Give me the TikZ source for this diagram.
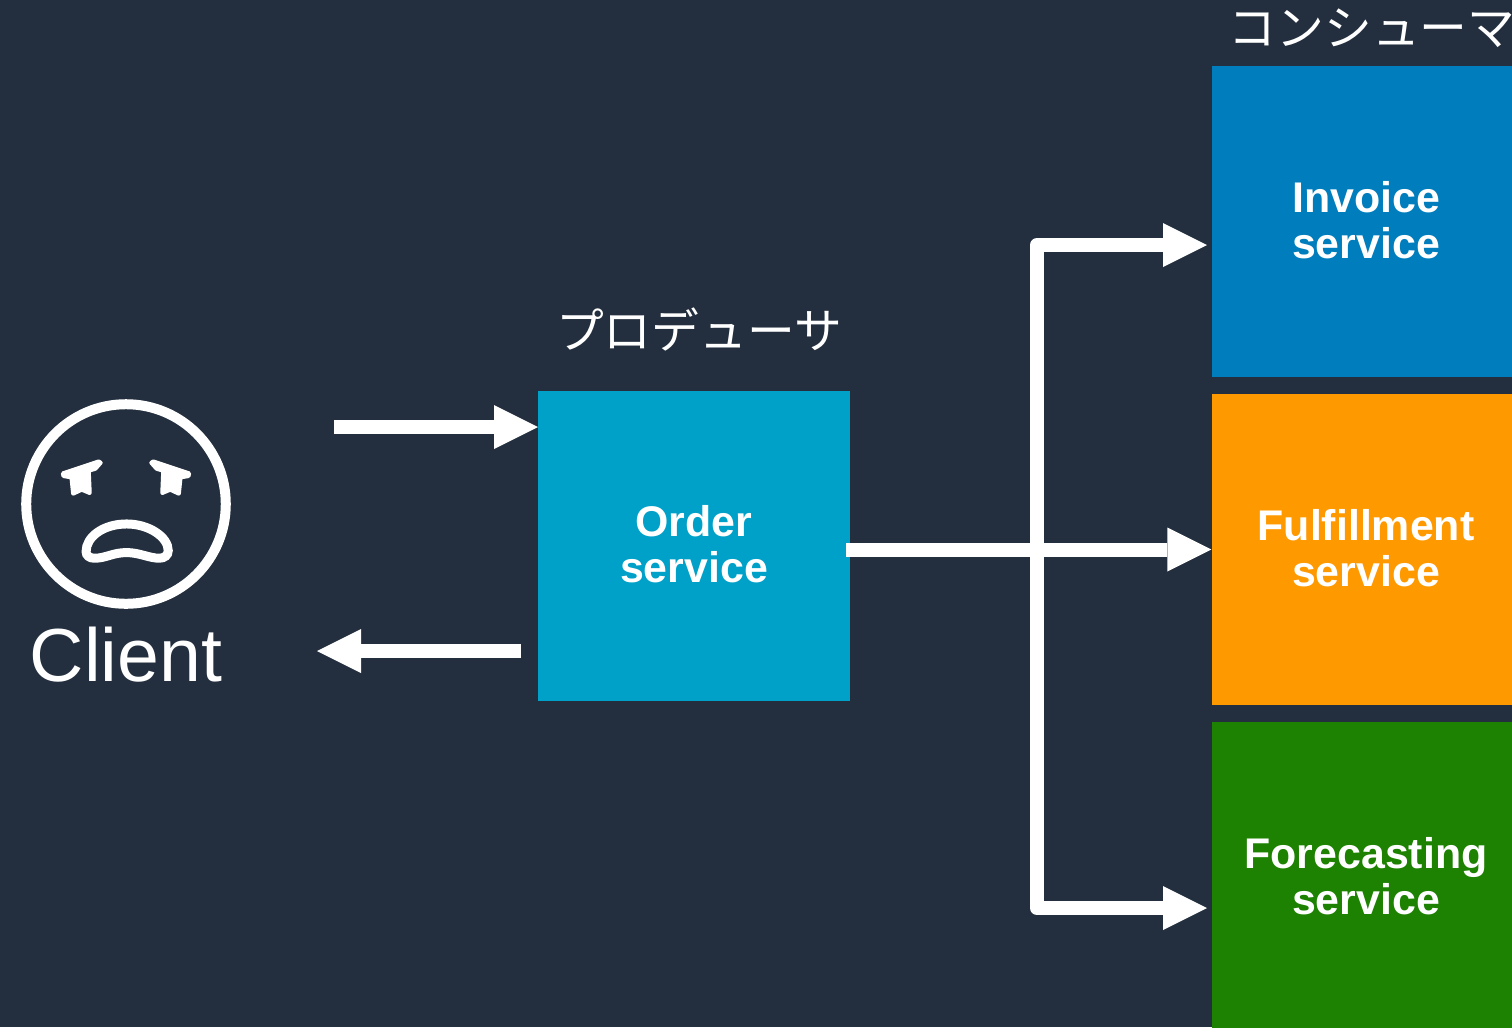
\documentclass[tikz,border=0pt]{standalone}
\usepackage{fontspec}
\setmainfont{Liberation Sans}
\newfontfamily\jpfont{Noto Sans CJK JP}
\usetikzlibrary{arrows.meta}

\definecolor{fond}{HTML}{232F3E}
\definecolor{bleuOrder}{HTML}{00A1C9}
\definecolor{bleuInvoice}{HTML}{007DBC}
\definecolor{orangeFulfill}{HTML}{FF9900}
\definecolor{vertForecast}{HTML}{1D8102}

\tikzset{
    service/.style={minimum width=3.08cm, minimum height=3.11cm, inner sep=0, text=white, align=center,
        text depth=.04cm, font=\fontsize{12.2}{13.1}\selectfont\bfseries},
    titre/.style={text=white, inner sep=0, font=\fontsize{13.6}{16}\jpfont},
    flow/.style={draw=white, line width=.14cm, line join=round, -{Triangle[length=.44cm,width=.44cm,line width=0pt]}},
}

\newcommand{\eye}{
    \filldraw[white,line width=.04cm,line join=round] (-190,92) -- (-82,128) -- (-76,124) -- (-92,106) -- (-112,100)
        -- (-109,33) -- (-133,43) -- (-159,31) -- (-164,80) -- (-188,84) -- cycle;
}
\newcommand{\face}{
    % contour
    \draw[white,line width=.1cm] (0,0) circle (300);

    % yeux
    \eye
    \begin{scope}[xscale=-1] \eye \end{scope}

    % bouche
    \draw[white,line width=.09cm] (2,-60) .. controls (-70,-60) and (-120,-100) .. (-120,-143)
        .. controls (-120,-155) and (-110,-163) .. (-95,-163)
        .. controls (-60,-163) and (-40,-146) .. (2,-146)
        .. controls (40,-146) and (70,-163) .. (100,-163)
        .. controls (115,-163) and (127,-155) .. (127,-140)
        .. controls (127,-100) and (70,-60) .. (2,-60) -- cycle;
}

\begin{document}
\begin{tikzpicture}
    \useasboundingbox (0,0) rectangle (15.12,-10.27);
    \clip (0,0) rectangle (15.12,-10.27);
    \fill[fond] (0,0) rectangle (15.12,-10.27);

    % client
    \begin{scope}[shift={(1.26,-5.04)},x=.003333cm,y=.003333cm] \face \end{scope}
    \node[anchor=base,text=white,inner sep=0,font=\fontsize{21.4}{24}\selectfont] (client) at (1.26,-6.81) {Client};

    % services
    \node[service,fill=bleuOrder,minimum width=3.12cm,minimum height=3.10cm] (order) at (6.94,-5.46) {Order\\service};
    \node[service,fill=bleuInvoice] (invoice) at (13.66,-2.215) {Invoice\\service};
    \node[service,fill=orangeFulfill] (fulfillment) at (13.66,-5.495) {Fulfillment\\service};
    \node[service,fill=vertForecast] (forecasting) at (13.66,-8.775) {Forecasting\\service};

    % titres
    \node[titre] (producer) at (6.99,-3.29) {プロデューサ};
    \node[titre] (consumer) at (13.72,-.28) {コンシューマ};

    % points
    \coordinate (clientout) at (3.34,-4.27);
    \coordinate (orderin) at (5.38,-4.27);
    \coordinate (orderback) at (5.21,-6.51);
    \coordinate (clientin) at (3.17,-6.51);
    \coordinate (orderout) at (8.46,-5.495);
    \coordinate (branch) at (10.37,-5.495);
    \coordinate (invoicein) at (12.07,-2.45);
    \coordinate (forecastin) at (12.07,-9.08);

    % client <-> order
    \draw[flow] (clientout) -- (orderin);
    \draw[flow] (orderback) -- (clientin);

    % order -> consumers
    \draw[flow] (orderout) -- (fulfillment.west);
    \draw[flow] (branch) |- (invoicein);
    \draw[flow] (branch) |- (forecastin);
\end{tikzpicture}
\end{document}
